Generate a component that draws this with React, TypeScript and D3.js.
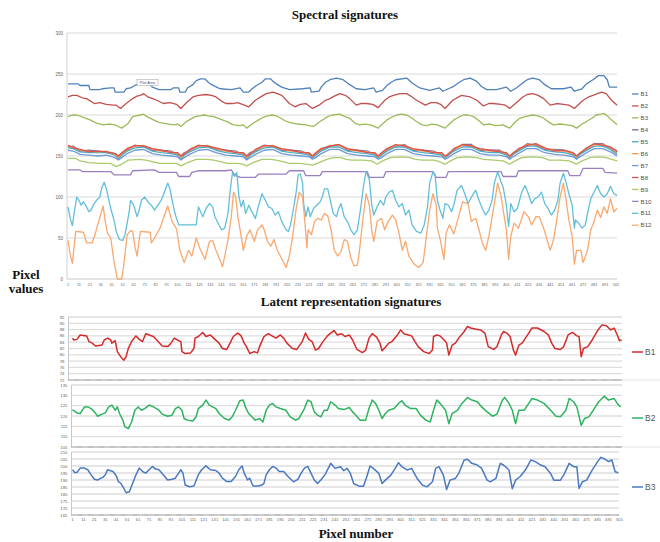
import React from 'react';
import * as d3 from 'd3';

type P = [number, number];

// ---------- Top chart: spectral signatures (pixel index, value) ----------
const S_B1: P[] = [[1,238],[10,238],[12,236],[20,236],[21,231],[30,231],[32,232],[40,233],[43,233],[44,228],[52,228],[54,232],[58,233],[62,236],[66,238],[75,238],[78,234],[84,231],[95,231],[97,233],[102,233],[103,228],[108,228],[110,233],[115,237],[118,242],[122,244],[126,244],[129,240],[132,237],[138,233],[140,232],[150,231],[158,233],[161,228],[166,228],[169,232],[173,236],[178,240],[181,244],[186,244],[188,241],[191,238],[196,234],[203,231],[215,232],[222,233],[223,228],[230,229],[232,234],[236,240],[240,243],[246,245],[252,243],[258,237],[264,232],[272,231],[280,233],[282,228],[288,230],[292,236],[296,240],[300,243],[310,245],[315,239],[322,233],[331,230],[340,233],[343,229],[348,232],[353,235],[357,239],[362,243],[368,245],[374,241],[378,235],[383,231],[392,231],[401,234],[405,229],[410,233],[415,238],[420,243],[425,245],[431,243],[436,237],[442,232],[453,232],[460,234],[463,229],[470,232],[474,238],[480,243],[485,248],[490,248],[493,243],[495,234],[502,234]];
const S_B2: P[] = [[1,222],[5,224],[9,224],[14,221],[18,220],[25,214],[30,215],[36,213],[42,212],[45,212],[49,208],[54,214],[60,220],[64,223],[67,224],[70,226],[74,222],[78,220],[82,218],[88,214],[94,215],[100,213],[104,208],[109,215],[115,222],[120,224],[127,225],[132,224],[136,222],[141,217],[145,214],[151,214],[156,215],[160,213],[166,210],[172,218],[178,223],[182,226],[188,228],[192,226],[196,224],[203,214],[208,210],[213,213],[218,214],[224,208],[230,212],[236,218],[240,220],[244,223],[249,226],[254,224],[258,220],[264,212],[268,214],[273,214],[279,213],[284,209],[290,218],[294,222],[298,224],[304,226],[310,226],[315,222],[319,218],[327,212],[332,215],[337,215],[341,213],[345,208],[352,218],[360,224],[368,222],[374,218],[380,211],[385,214],[389,214],[396,213],[400,212],[404,208],[410,215],[416,222],[420,225],[425,226],[430,224],[435,220],[441,212],[447,214],[453,213],[458,212],[463,208],[471,218],[476,222],[480,224],[484,226],[488,228],[492,226],[497,218],[502,212]];
const S_B3: P[] = [[1,198],[5,200],[9,200],[15,197],[21,194],[27,190],[33,188],[38,189],[44,188],[47,186],[50,184],[53,187],[56,190],[60,198],[63,199],[67,200],[70,201],[73,198],[79,194],[84,191],[88,190],[93,189],[98,188],[101,189],[104,186],[109,192],[113,195],[117,198],[121,199],[125,200],[129,199],[134,198],[140,195],[146,192],[152,188],[158,187],[161,188],[164,184],[170,190],[175,194],[179,197],[183,199],[187,200],[191,199],[194,197],[199,193],[203,191],[210,189],[218,188],[221,187],[225,186],[231,192],[238,198],[242,200],[249,201],[254,198],[258,196],[263,190],[267,188],[272,189],[277,188],[284,184],[288,189],[292,194],[296,197],[301,200],[305,201],[310,200],[315,196],[319,192],[324,188],[328,187],[333,189],[338,188],[345,184],[349,189],[353,194],[357,197],[362,200],[366,200],[371,198],[376,193],[380,188],[386,189],[391,187],[398,188],[404,184],[408,190],[413,196],[418,198],[425,200],[430,199],[435,196],[440,191],[444,188],[450,189],[456,188],[461,187],[465,184],[470,189],[474,192],[479,196],[483,200],[487,201],[490,202],[493,199],[496,195],[502,188]];

// B4..B8 share these pixel positions
const CLUSTER_IDX = [1,6,12,20,28,36,44,47,50,55,62,70,78,86,95,101,104,107,112,120,128,136,145,154,161,164,167,172,180,188,196,205,214,221,224,227,232,240,248,256,265,274,281,284,287,292,300,308,316,325,334,342,345,348,353,361,369,377,386,395,401,404,407,412,420,428,436,445,454,462,465,468,473,481,489,496,502];
const S_B4 = [161,162,156,157,156,155,153,150,152,157,163,162,157,157,156,152,150,154,156,163,162,158,157,156,152,150,154,156,163,162,157,157,156,152,150,152,157,162,164,157,157,156,152,150,152,157,162,164,157,157,156,152,150,152,157,164,164,157,157,157,152,150,153,157,165,163,158,158,157,152,150,153,157,165,165,159,155];
const S_B5 = [160,159,155,154,154,154,151,146,151,156,160,161,156,154,153,151,146,151,155,160,161,157,154,153,151,146,151,155,160,161,156,154,153,151,147,151,156,161,161,156,154,153,151,147,151,156,161,161,156,154,153,151,147,151,156,161,161,156,154,154,151,147,152,156,162,162,157,155,154,151,147,152,156,162,162,158,152];
const S_B6 = [162,161,157,156,155,156,152,148,153,158,162,163,158,156,155,153,148,153,157,162,163,159,156,155,153,148,153,157,162,163,158,156,155,153,149,153,158,163,163,158,156,155,153,149,153,158,163,163,158,156,155,153,149,153,158,163,163,158,156,156,153,149,154,158,164,164,159,157,156,153,149,154,158,164,164,160,154];
const S_B7 = [157,156,152,151,150,151,148,145,148,153,157,158,153,151,150,149,145,148,152,157,158,154,151,150,149,145,148,152,157,158,153,151,150,149,146,148,153,158,158,153,151,150,149,146,148,153,158,158,153,151,150,149,146,148,153,158,158,153,151,151,149,146,149,153,159,159,154,152,151,149,146,149,153,159,159,155,150];
const S_B8 = [163,160,158,155,156,155,153,150,154,159,163,162,159,157,154,154,150,152,158,163,162,160,157,154,154,150,152,158,163,162,159,157,154,154,150,154,159,162,164,159,157,154,154,150,154,159,164,162,159,157,154,154,150,152,159,164,162,159,157,155,154,150,153,159,163,165,160,156,157,154,150,153,159,165,163,161,156];

const S_B9: P[] = [[1,147],[8,147],[12,144],[20,142],[30,141],[40,141],[45,137],[50,140],[56,145],[66,146],[72,145],[78,143],[85,141],[95,141],[100,141],[104,138],[110,142],[118,146],[128,146],[134,145],[140,143],[146,141],[156,141],[160,140],[164,138],[170,142],[178,146],[186,146],[191,145],[197,143],[203,141],[212,141],[218,140],[224,139],[230,142],[237,146],[243,148],[250,148],[255,146],[260,145],[270,145],[278,144],[283,140],[288,144],[295,148],[305,149],[313,148],[318,146],[325,145],[335,145],[340,143],[345,140],[350,144],[356,148],[365,149],[374,148],[380,146],[390,145],[398,144],[404,140],[409,144],[415,148],[425,149],[434,148],[440,145],[450,145],[458,144],[465,140],[470,144],[477,148],[485,149],[492,148],[497,146],[502,144]];
const S_B10: P[] = [[1,133],[12,133],[14,131],[40,131],[43,127],[58,127],[60,132],[80,133],[84,130],[100,130],[102,125],[112,125],[114,130],[120,132],[145,132],[150,133],[153,127],[158,124],[172,124],[175,128],[200,128],[203,132],[216,132],[218,126],[231,126],[233,131],[274,131],[276,124],[289,124],[291,131],[334,131],[337,124],[346,124],[348,131],[396,131],[398,125],[410,125],[412,132],[457,132],[459,126],[468,126],[471,135],[489,135],[491,130],[502,129]];
const S_B11: P[] = [[1,88],[3,74],[5,65],[7,84],[9,100],[11,96],[13,90],[15,94],[18,88],[20,82],[22,84],[24,90],[27,96],[30,100],[32,112],[34,118],[36,110],[39,92],[40,86],[43,72],[45,58],[48,48],[51,47],[53,54],[55,68],[57,84],[58,96],[61,90],[64,76],[66,84],[68,96],[71,100],[74,94],[77,90],[80,84],[83,90],[86,96],[89,106],[92,117],[94,110],[96,96],[99,78],[102,66],[112,66],[118,66],[120,88],[124,76],[127,86],[130,92],[133,88],[135,76],[138,68],[141,60],[144,62],[147,80],[149,108],[151,129],[153,125],[155,130],[157,100],[159,88],[161,96],[163,80],[166,90],[168,84],[172,74],[175,90],[178,104],[181,96],[184,88],[187,86],[190,78],[193,82],[196,70],[200,60],[202,58],[204,66],[206,80],[209,104],[211,127],[213,128],[215,117],[216,92],[218,76],[220,88],[222,76],[225,86],[228,90],[231,94],[233,100],[235,110],[238,110],[241,92],[243,80],[246,76],[248,86],[250,92],[253,76],[256,70],[259,60],[262,54],[265,60],[268,86],[271,117],[273,131],[276,121],[278,92],[280,78],[283,88],[286,96],[289,90],[291,100],[294,106],[297,108],[300,96],[303,88],[306,92],[309,78],[312,84],[315,66],[319,58],[323,56],[326,66],[329,88],[331,117],[334,131],[336,126],[338,96],[340,86],[343,74],[345,92],[348,90],[351,82],[353,90],[356,108],[360,114],[363,104],[366,92],[370,102],[373,108],[376,96],[379,86],[382,78],[385,84],[388,96],[390,117],[393,131],[396,119],[398,112],[401,90],[403,64],[405,92],[408,82],[411,86],[415,106],[418,114],[421,104],[424,92],[427,98],[430,100],[433,106],[436,92],[439,86],[442,78],[445,84],[448,96],[450,117],[453,129],[455,120],[458,104],[461,90],[463,62],[464,72],[467,68],[470,62],[473,66],[475,80],[478,98],[481,106],[484,114],[487,104],[490,100],[493,104],[496,113],[499,104],[502,102]];
const S_B12: P[] = [[1,47],[3,30],[5,19],[8,58],[15,57],[18,44],[23,44],[26,56],[30,75],[33,89],[35,70],[37,56],[40,50],[43,21],[46,0],[50,0],[52,18],[55,54],[58,59],[60,58],[62,40],[64,28],[67,58],[76,57],[77,44],[80,50],[85,62],[88,74],[92,89],[96,70],[100,61],[103,35],[107,20],[111,35],[114,28],[118,50],[121,38],[126,24],[130,46],[133,47],[136,35],[140,22],[142,15],[144,28],[147,48],[150,76],[152,106],[154,100],[156,76],[159,52],[161,35],[164,52],[167,60],[171,46],[174,60],[178,66],[180,60],[183,46],[186,40],[189,48],[192,35],[197,22],[200,14],[203,28],[206,52],[209,84],[212,106],[215,100],[217,72],[219,38],[220,60],[223,54],[226,70],[229,74],[232,72],[235,80],[238,77],[241,60],[244,35],[247,28],[250,33],[253,48],[256,46],[259,26],[262,16],[265,17],[267,35],[270,72],[273,104],[276,90],[278,60],[280,46],[283,70],[287,74],[290,60],[293,70],[297,78],[300,72],[303,56],[306,35],[309,46],[312,28],[317,18],[321,14],[325,20],[328,52],[331,84],[334,104],[337,90],[338,62],[341,46],[344,24],[346,56],[349,66],[353,55],[357,74],[361,94],[366,92],[369,70],[373,74],[376,60],[379,44],[382,35],[385,52],[388,76],[391,100],[393,117],[396,102],[399,76],[401,60],[403,24],[405,52],[408,68],[412,62],[417,82],[421,76],[424,66],[428,76],[431,76],[435,62],[438,48],[441,35],[444,48],[447,72],[450,100],[453,117],[455,100],[458,72],[461,52],[463,18],[465,35],[469,35],[471,20],[475,35],[478,60],[481,70],[484,84],[487,75],[490,88],[493,80],[496,98],[499,82],[502,86]];

const TOP_NAMES = ['B1','B2','B3','B4','B5','B6','B7','B8','B9','B10','B11','B12'];
const TOP_COLORS = ['#4F81BD','#C0504D','#9BBB59','#8064A2','#4BACC6','#F79646','#6E9BD6','#D9534F','#A9CB6C','#9B80C0','#62BFDA','#F9A86E'];
const TOP_Y_TICKS = [0,50,100,150,200,250,300];
const X_TICK_LABELS = [1,11,21,31,41,51,61,71,81,91,101,111,121,131,141,151,161,171,181,191,201,211,221,231,241,251,261,271,281,291,301,311,321,331,341,351,361,371,381,391,401,411,421,431,441,451,461,471,481,491,501];

// ---------- Lower charts: latent representation signatures ----------
const L_B1: P[] = [[1,85.3],[2,84.7],[5,84.9],[8,86.3],[14,86.0],[16,84.2],[19,83.7],[22,82.8],[28,83.1],[30,84.7],[33,85.3],[36,84.7],[37,83.7],[40,84.5],[42,81.0],[45,79.4],[48,78.3],[50,79.4],[52,82.0],[55,84.2],[59,86.0],[62,84.9],[65,84.2],[68,86.7],[71,86.3],[75,85.8],[78,84.7],[83,82.8],[88,82.6],[91,83.7],[94,85.3],[97,84.7],[100,84.2],[101,81.0],[104,80.4],[109,80.6],[112,82.0],[113,85.3],[116,85.8],[120,87.1],[123,85.8],[127,86.3],[130,85.3],[135,83.7],[138,82.0],[142,81.7],[145,83.7],[148,85.8],[152,86.9],[155,86.1],[158,83.7],[160,82.6],[163,80.4],[167,81.0],[170,80.6],[172,82.6],[176,85.8],[180,86.7],[183,86.1],[187,85.3],[191,86.3],[194,85.3],[197,83.7],[202,82.0],[206,81.7],[211,84.2],[214,86.9],[217,84.9],[220,84.2],[223,81.5],[226,82.0],[229,83.7],[234,86.0],[237,86.9],[240,87.7],[243,86.3],[247,86.7],[250,85.8],[254,86.3],[257,84.7],[261,81.7],[266,80.7],[269,81.5],[272,85.3],[275,86.7],[279,85.6],[282,83.7],[284,81.3],[287,82.4],[290,83.7],[293,84.2],[298,86.3],[301,87.9],[304,86.7],[308,86.3],[311,86.0],[314,84.2],[317,82.6],[322,81.0],[327,80.4],[330,81.5],[331,85.8],[334,86.3],[337,86.0],[342,84.2],[343,83.7],[345,79.9],[348,83.1],[351,83.7],[354,85.3],[359,87.4],[362,89.0],[365,88.5],[369,88.2],[374,87.9],[378,86.9],[381,82.6],[386,81.7],[389,82.6],[393,86.3],[395,87.4],[398,86.9],[401,85.8],[404,81.5],[406,79.9],[409,83.1],[412,83.7],[417,86.3],[421,88.5],[426,88.5],[432,87.4],[436,86.3],[439,83.7],[442,82.0],[447,81.7],[450,82.6],[454,86.3],[458,87.1],[462,86.0],[464,85.8],[466,79.4],[468,82.0],[472,82.6],[476,84.7],[481,87.7],[485,89.5],[489,89.2],[493,87.9],[496,88.5],[499,86.3],[501,84.5],[503,84.7]];
const L_B2: P[] = [[1,123.1],[5,121.5],[8,121.2],[12,124.4],[15,124.4],[18,123.6],[21,122.0],[24,119.9],[28,120.9],[31,121.5],[34,124.4],[37,125.3],[40,122.8],[42,124.4],[44,121.2],[47,118.0],[49,114.7],[52,113.9],[55,117.1],[58,122.8],[61,124.4],[64,122.8],[67,123.6],[71,125.3],[75,124.4],[80,122.8],[83,120.9],[88,119.9],[92,120.4],[95,123.6],[98,124.4],[101,122.8],[103,118.8],[106,118.0],[111,117.6],[114,119.6],[116,123.6],[120,125.3],[123,127.7],[126,125.3],[129,124.4],[132,123.6],[135,121.2],[140,118.8],[144,118.0],[147,119.6],[150,122.8],[154,127.4],[157,127.7],[159,124.4],[162,121.2],[165,119.6],[168,118.0],[172,118.8],[175,117.1],[178,122.8],[181,125.3],[184,126.1],[187,124.4],[191,123.6],[196,122.8],[200,119.6],[205,118.0],[208,118.8],[213,123.6],[216,127.7],[219,126.9],[222,122.0],[225,120.4],[228,119.6],[231,122.8],[234,122.8],[237,126.9],[241,125.3],[244,123.6],[249,123.1],[254,124.1],[257,122.0],[260,120.4],[264,118.0],[269,118.0],[272,123.6],[275,127.7],[278,126.1],[281,122.8],[284,118.8],[287,121.2],[290,122.8],[295,123.6],[299,126.1],[302,127.4],[305,125.3],[310,123.6],[315,123.6],[319,120.4],[324,118.0],[328,117.1],[331,122.8],[334,127.7],[337,126.1],[342,122.8],[345,116.3],[348,121.2],[353,122.8],[357,126.1],[362,129.0],[366,127.7],[371,126.9],[375,124.4],[380,122.0],[385,119.9],[389,120.9],[394,127.7],[396,129.0],[400,126.1],[403,122.8],[406,116.3],[409,122.8],[414,122.8],[417,125.3],[421,128.5],[426,127.7],[432,126.1],[438,122.8],[443,119.9],[447,119.6],[452,122.8],[455,128.5],[459,126.9],[462,124.4],[466,115.5],[469,118.8],[473,119.6],[478,123.6],[482,126.9],[487,129.6],[491,127.7],[496,128.5],[499,126.1],[502,124.4]];
const L_B3: P[] = [[1,197.3],[3,195.4],[5,195.4],[8,198.5],[12,198.5],[15,197.3],[18,193.7],[21,190.5],[24,190.0],[27,191.3],[29,192.0],[31,193.7],[33,197.3],[38,196.1],[41,193.0],[43,188.9],[45,187.7],[47,185.2],[50,180.9],[53,181.6],[56,187.7],[59,193.7],[62,198.5],[65,196.1],[68,194.9],[71,197.3],[74,199.7],[77,197.8],[80,197.3],[84,193.7],[88,190.0],[92,190.5],[95,191.3],[98,194.9],[100,197.3],[102,194.9],[104,186.4],[108,185.2],[112,185.7],[116,193.7],[119,197.3],[123,200.1],[127,197.3],[132,196.8],[135,194.9],[138,191.3],[142,188.9],[146,188.9],[150,192.5],[153,197.3],[156,200.1],[158,194.9],[161,190.0],[163,191.3],[166,185.7],[171,185.7],[174,186.4],[176,187.6],[178,193.7],[181,197.3],[184,199.7],[187,198.5],[190,196.1],[194,196.1],[198,192.5],[203,188.7],[207,190.5],[210,194.9],[213,198.5],[216,199.7],[219,194.9],[222,190.0],[225,187.6],[228,190.0],[232,194.0],[237,201.9],[241,198.3],[246,199.5],[249,196.6],[252,198.3],[255,194.7],[258,187.5],[263,185.6],[267,185.6],[270,192.3],[273,200.0],[276,198.3],[281,194.7],[284,187.5],[287,189.9],[292,193.5],[296,198.3],[299,202.4],[302,199.5],[307,197.1],[311,198.3],[316,191.1],[321,186.3],[325,185.1],[330,188.7],[333,198.3],[336,199.5],[340,193.5],[343,183.2],[346,189.9],[351,191.1],[354,194.7],[359,204.3],[362,204.8],[366,201.9],[371,200.7],[375,198.3],[380,189.9],[383,188.7],[388,191.1],[392,201.9],[395,200.7],[400,197.1],[403,183.7],[406,189.9],[410,192.3],[415,197.1],[420,204.3],[424,203.1],[429,200.7],[433,199.5],[438,194.7],[441,189.9],[447,189.9],[450,193.5],[455,201.9],[459,199.5],[462,199.5],[464,183.9],[467,188.7],[471,189.9],[476,197.1],[481,203.1],[484,206.2],[488,204.8],[491,203.1],[494,204.3],[497,195.9],[500,195.2]];

const L_NAMES = ['B1','B2','B3'];
const L_COLORS = ['#D42B2B','#2DB35F','#4A78C2'];
const L1_TICKS = [72,74,76,78,80,82,84,86,88,90,92];
const L2_TICKS = [105,110,115,120,125,130,135];
const L3_TICKS = [165,170,175,180,185,190,195,200,205,210];

const SANS = '"Liberation Sans", Arial, sans-serif';
const SERIF = '"Liberation Serif", "Times New Roman", serif';

export default function App() {
  const xTop = d3.scaleLinear().domain([1, 501]).range([68, 616]);
  const yTop = d3.scaleLinear().domain([0, 300]).range([279, 33]);
  const topLine = d3.line<P>().x(d => xTop(d[0])).y(d => yTop(d[1]));

  const zip = (vals: number[]): P[] => CLUSTER_IDX.map((ix, k) => [ix, vals[k]] as P);
  const topData: P[][] = [S_B1, S_B2, S_B3, zip(S_B4), zip(S_B5), zip(S_B6), zip(S_B7), zip(S_B8), S_B9, S_B10, S_B11, S_B12];

  const xLow = d3.scaleLinear().domain([1, 501]).range([72.5, 619.5]);
  const panels = [
    { data: L_B1, ticks: L1_TICKS, y: d3.scaleLinear().domain([72, 92]).range([380, 317]), axisX: 68.5, right: 622, legendY: 352 },
    { data: L_B2, ticks: L2_TICKS, y: d3.scaleLinear().domain([105, 135]).range([447, 385]), axisX: 71.5, right: 622, legendY: 418 },
    { data: L_B3, ticks: L3_TICKS, y: d3.scaleLinear().domain([165, 210]).range([515, 452]), axisX: 71.5, right: 619, legendY: 487 },
  ];

  return (
    <div style={{ position: 'absolute', left: 0, top: 0 }}>
      <svg width={660} height={542} style={{ display: 'block', background: '#fff' }}>
        {/* titles */}
        <text x={345} y={19} textAnchor="middle" fontFamily={SERIF} fontWeight="bold" fontSize={13} fill="#111">Spectral signatures</text>
        <text x={26} y={279} textAnchor="middle" fontFamily={SERIF} fontWeight="bold" fontSize={13} fill="#111">Pixel</text>
        <text x={26} y={293} textAnchor="middle" fontFamily={SERIF} fontWeight="bold" fontSize={13} fill="#111">values</text>
        <text x={351} y={306} textAnchor="middle" fontFamily={SERIF} fontWeight="bold" fontSize={13} fill="#111">Latent representation signatures</text>
        <text x={356} y={538} textAnchor="middle" fontFamily={SERIF} fontWeight="bold" fontSize={13} fill="#111">Pixel number</text>

        {/* top chart grid + axes */}
        {TOP_Y_TICKS.map(t => (
          <g key={'tg' + t}>
            <line x1={67} x2={617} y1={yTop(t)} y2={yTop(t)} stroke={t === 0 ? '#c8c8c8' : '#d9d9d9'} strokeWidth={1.2} />
            <text x={63} y={yTop(t)} dy="0.35em" textAnchor="end" fontFamily={SANS} fontSize={4.5} fill="#666">{t}</text>
          </g>
        ))}
        <line x1={67} x2={67} y1={yTop(300)} y2={yTop(0)} stroke="#d0d0d0" strokeWidth={1} />
        {X_TICK_LABELS.map(t => (
          <text key={'tx' + t} x={xTop(t)} y={286} textAnchor="middle" fontFamily={SANS} fontSize={4} fill="#666">{t}</text>
        ))}
        {topData.map((d, i) => (
          <path key={'ts' + i} d={topLine(d) || ''} fill="none" stroke={TOP_COLORS[i]} strokeWidth={1.3} strokeLinejoin="round" />
        ))}
        {/* "Plot Area" tooltip */}
        <rect x={137} y={79.5} width={21} height={6} fill="#fff" stroke="#999" strokeWidth={0.5} />
        <text x={147.5} y={83.8} textAnchor="middle" fontFamily={SANS} fontSize={3.8} fill="#555">Plot Area</text>
        {/* top legend */}
        {TOP_NAMES.map((n, i) => (
          <g key={'tl' + n}>
            <line x1={632} x2={638.5} y1={94 + i * 11.93} y2={94 + i * 11.93} stroke={TOP_COLORS[i]} strokeWidth={1.3} />
            <text x={640.5} y={94 + i * 11.93} dy="0.35em" fontFamily={SANS} fontSize={6.2} fill="#555">{n}</text>
          </g>
        ))}

        {/* lower panels */}
        {panels.map((p, pi) => {
          const line = d3.line<P>().x(d => xLow(d[0])).y(d => p.y(d[1]));
          const yMin = p.y.domain()[0];
          const yMax = p.y.domain()[1];
          return (
            <g key={'p' + pi}>
              {p.ticks.map(t => (
                <g key={'g' + t}>
                  {t !== yMin && <line x1={p.axisX} x2={p.right} y1={p.y(t)} y2={p.y(t)} stroke="#dedede" strokeWidth={1.3} />}
                  <text x={p.axisX - 4} y={p.y(t)} dy="0.35em" textAnchor="end" fontFamily={SANS} fontSize={4.3} fill="#666">{t}</text>
                </g>
              ))}
              <line x1={p.axisX} x2={p.axisX} y1={p.y(yMax)} y2={p.y(yMin)} stroke="#c8c8c8" strokeWidth={1} />
              <line x1={p.axisX} x2={p.right} y1={p.y(yMin)} y2={p.y(yMin)} stroke="#9a9a9a" strokeWidth={1.8} strokeDasharray="0.6 0.5" />
              {pi < 2 && <line x1={p.right} x2={660} y1={p.y(yMin)} y2={p.y(yMin)} stroke="#e4e4e4" strokeWidth={1} />}
              <path d={line(p.data) || ''} fill="none" stroke={L_COLORS[pi]} strokeWidth={1.5} strokeLinejoin="round" />
              <line x1={632} x2={643} y1={p.legendY} y2={p.legendY} stroke={L_COLORS[pi]} strokeWidth={1.5} />
              <text x={645} y={p.legendY} dy="0.36em" fontFamily={SANS} fontSize={8.5} fill="#555">{L_NAMES[pi]}</text>
            </g>
          );
        })}
        {X_TICK_LABELS.map(t => (
          <text key={'lx' + t} x={xLow(t)} y={520.5} textAnchor="middle" fontFamily={SANS} fontSize={4.2} fill="#666">{t}</text>
        ))}
      </svg>
    </div>
  );
}
